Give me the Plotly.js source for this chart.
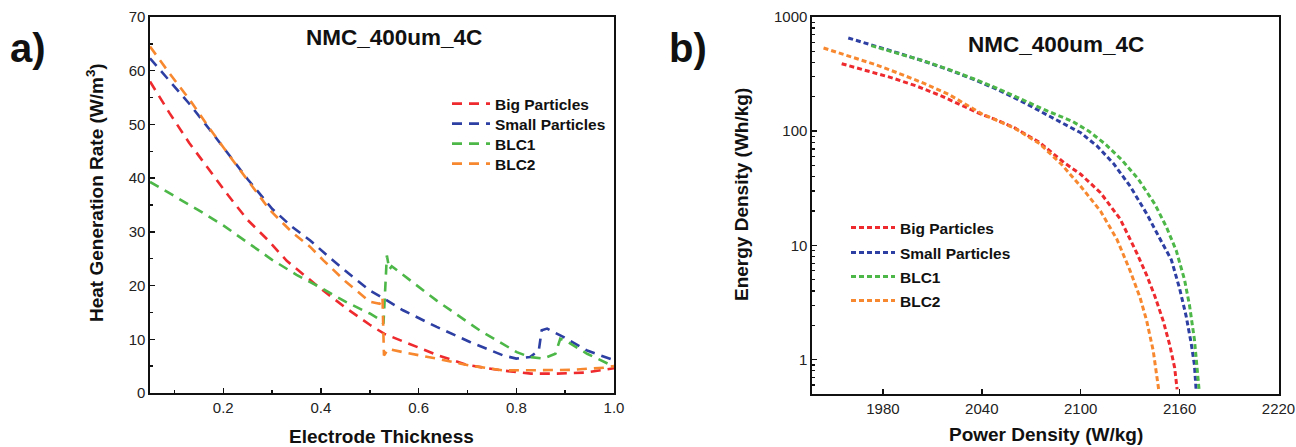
<!DOCTYPE html>
<html>
<head>
<meta charset="utf-8">
<script src="https://cdn.plot.ly/plotly-3.0.1.min.js"></script>
<style>html,body{margin:0;padding:0;background:#fff;}#chart{width:1296px;height:447px;}</style>
</head>
<body>
<div id="chart"></div>
<script>
// ---------- Panel a) Heat generation rate vs electrode thickness ----------
const seriesNames = ["Big Particles", "Small Particles", "BLC1", "BLC2"];
const seriesColors = ["#EE2A2E", "#2E3FA3", "#4DB848", "#F7882F"];

const bigThk  = [0.05,0.09,0.13,0.17,0.21,0.25,0.29,0.33,0.37,0.40,0.45,0.50,0.53,0.57,0.64,0.70,0.77,0.83,0.88,0.94,1.00];
const bigHeat = [58.0,52.1,46.6,41.6,36.8,32.2,28.6,24.6,21.6,19.4,15.9,12.7,11.0,9.5,7.0,5.2,4.2,3.6,3.6,3.8,4.6];

const smallThk  = [0.05,0.09,0.13,0.17,0.21,0.25,0.30,0.34,0.378,0.419,0.46,0.50,0.527,0.568,0.637,0.705,0.773,0.80,0.828,0.846,0.852,0.863,0.897,0.945,1.00];
const smallHeat = [62.3,58.0,53.9,49.3,44.6,39.8,34.3,31.0,28.4,25.1,22.0,19.1,17.7,15.4,12.3,9.5,7.0,6.4,6.7,7.9,11.7,12.0,10.4,7.9,6.1];

const blc1Thk  = [0.05,0.10,0.15,0.20,0.25,0.30,0.35,0.40,0.45,0.50,0.522,0.528,0.535,0.540,0.545,0.60,0.637,0.726,0.801,0.828,0.855,0.880,0.890,0.900,0.945,0.996,1.00];
const blc1Heat = [39.3,36.7,34.0,31.2,28.0,24.8,22.0,19.6,17.0,14.8,13.6,12.9,25.6,23.0,23.6,19.8,17.2,11.6,7.6,6.7,6.4,7.3,10.1,9.8,7.3,5.1,5.0];

const blc2Thk  = [0.05,0.09,0.132,0.17,0.214,0.255,0.296,0.34,0.378,0.405,0.45,0.50,0.52,0.526,0.529,0.538,0.568,0.637,0.705,0.774,0.842,0.91,0.979,1.00];
const blc2Heat = [64.5,59.5,54.5,49.5,44.0,39.0,34.0,30.0,27.2,24.7,20.8,17.0,16.6,17.8,7.0,8.2,7.6,6.4,5.1,4.2,4.2,4.3,4.7,5.0];

// ---------- Panel b) Ragone plot ----------
const bigPow  = [1955,1970,1985,2000,2015,2030,2040,2050,2060,2075,2090,2100,2112,2124,2134,2140,2145,2150,2154,2157,2158.5];
const bigEng  = [390,340,295,250,205,163,140,124,107,80,53,42,29,17,8.6,5.5,3.6,2.2,1.35,0.85,0.55];

const smallPow = [1959,1975,1990,2005,2020,2035,2050,2065,2080,2090,2100,2110,2120,2130,2140,2148,2155,2160,2164,2167,2169,2170];
const smallEng = [655,560,480,410,345,285,230,180,138,115,97,74,52,33,19,11.5,7.5,4.2,2.4,1.4,0.9,0.55];

const blc1Pow = [1973,1990,2005,2020,2035,2050,2065,2080,2095,2105,2115,2125,2135,2145,2152,2158,2163,2166,2169,2171,2171.8];
const blc1Eng = [561,480,412,347,288,235,187,150,122,100,77,56,38,23,14.5,9.0,5.0,3.0,1.5,0.8,0.55];

const blc2Pow = [1944,1960,1975,1990,2005,2020,2030,2040,2050,2060,2075,2088,2100,2112,2122,2130,2136,2140,2144,2147.3];
const blc2Eng = [535,455,385,320,262,210,172,142,123,106,78,52,33,20,11.3,6.0,3.5,2.2,1.2,0.55];

const xTicksA = [0.2,0.4,0.6,0.8,1.0];
const yTicksB = [1,10,100,1000];
const xTicksB = [1980,2040,2100,2160,2220];
const panelTitle = "NMC_400um_4C";

const FONT = "Liberation Sans, Arial, Helvetica, sans-serif";
const W = 1296, H = 447;
const px = v => v / W;
const py = v => (H - v) / H;

const dataA = [[bigThk,bigHeat],[smallThk,smallHeat],[blc1Thk,blc1Heat],[blc2Thk,blc2Heat]];
const dataB = [[bigPow,bigEng],[smallPow,smallEng],[blc1Pow,blc1Eng],[blc2Pow,blc2Eng]];

// legend row centres (px from top) for each panel
const legendRowsA = [104, 124, 144, 164];
const legendRowsB = [228, 253, 277, 301];

const traces = [];
const legends = {};
const legFont = {family: FONT, size: 15.5, color: "#111", weight: "bold"};
dataA.forEach((d, i) => {
  const key = i === 0 ? "legend" : "legend" + (i + 1);
  traces.push({
    x: d[0], y: d[1], type: "scatter", mode: "lines", name: seriesNames[i],
    xaxis: "x", yaxis: "y", legend: key,
    line: {color: seriesColors[i], width: 2.6, dash: "10px,7px"}
  });
  legends[key] = {x: px(447), y: py(legendRowsA[i] - 17), xanchor: "left", yanchor: "top",
    bgcolor: "rgba(0,0,0,0)", borderwidth: 0, font: legFont, itemwidth: 38};
});
dataB.forEach((d, i) => {
  const key = "legend" + (i + 5);
  traces.push({
    x: d[0], y: d[1], type: "scatter", mode: "lines", name: seriesNames[i],
    xaxis: "x2", yaxis: "y2", legend: key,
    line: {color: seriesColors[i], width: 3, dash: "5px,3px"}
  });
  legends[key] = {x: px(846), y: py(legendRowsB[i] - 17), xanchor: "left", yanchor: "top",
    bgcolor: "rgba(0,0,0,0)", borderwidth: 0, font: legFont, itemwidth: 44};
});

// minor tick positions on the log axis
const logMinor = [];
[0.1,1,10,100].forEach(d => { for (let k = 2; k <= 9; k++) logMinor.push(k*d); });

const axCommon = {
  showline: true, linecolor: "#111", linewidth: 1.6, mirror: true,
  ticks: "inside", ticklen: 5, tickwidth: 1.5, tickcolor: "#111",
  showgrid: false, zeroline: false, ticklabeloverflow: "allow",
  tickfont: {family: FONT, size: 15, color: "#222"}
};

const annFont = (s) => ({family: FONT, size: s, color: "#111", weight: "bold"});

const layout = Object.assign({
  width: W, height: H,
  margin: {l: 0, r: 0, t: 0, b: 0},
  paper_bgcolor: "#fff", plot_bgcolor: "#fff",
  showlegend: true,
  xaxis: Object.assign({}, axCommon, {
    domain: [px(150), px(614)], range: [0.05, 1.0], anchor: "y",
    tickvals: xTicksA, tickformat: ".1f",
    minor: {tickvals: [0.1,0.3,0.5,0.7,0.9], ticks: "inside", ticklen: 3, tickwidth: 1.5, tickcolor: "#111", showgrid: false}
  }),
  yaxis: Object.assign({}, axCommon, {
    domain: [py(393), py(17)], range: [0, 70], anchor: "x",
    dtick: 10, tick0: 0,
    minor: {dtick: 5, tick0: 0, ticks: "inside", ticklen: 3, tickwidth: 1.5, tickcolor: "#111", showgrid: false}
  }),
  xaxis2: Object.assign({}, axCommon, {
    domain: [px(812), px(1279)], range: [1937, 2220.3], anchor: "y2",
    tickvals: xTicksB
  }),
  yaxis2: Object.assign({}, axCommon, {
    domain: [py(394), py(17)], type: "log", range: [-0.3, 3], anchor: "x2",
    tickvals: yTicksB, ticktext: yTicksB.map(String),
    minor: {tickvals: logMinor, ticks: "inside", ticklen: 3, tickwidth: 1.2, tickcolor: "#111", showgrid: false}
  }),
  annotations: [
    {text: panelTitle, xref: "paper", yref: "paper", x: px(394), y: py(38), xanchor: "center", yanchor: "middle", showarrow: false, font: annFont(22.5)},
    {text: panelTitle, xref: "paper", yref: "paper", x: px(1056), y: py(45), xanchor: "center", yanchor: "middle", showarrow: false, font: annFont(22.5)},
    {text: "a)", xref: "paper", yref: "paper", x: px(28), y: py(48), xanchor: "center", yanchor: "middle", showarrow: false, font: annFont(40)},
    {text: "b)", xref: "paper", yref: "paper", x: px(688), y: py(48), xanchor: "center", yanchor: "middle", showarrow: false, font: annFont(40)},
    {text: "Electrode Thickness", xref: "paper", yref: "paper", x: px(382), y: py(436), xanchor: "center", yanchor: "middle", showarrow: false, font: annFont(19)},
    {text: "Power Density (W/kg)", xref: "paper", yref: "paper", x: px(1046), y: py(434), xanchor: "center", yanchor: "middle", showarrow: false, font: annFont(19)},
    {text: "Heat Generation Rate (W/m<sup>3</sup>)", xref: "paper", yref: "paper", x: px(95), y: py(193), xanchor: "center", yanchor: "middle", showarrow: false, textangle: -90, font: annFont(19)},
    {text: "Energy Density (Wh/kg)", xref: "paper", yref: "paper", x: px(741), y: py(195), xanchor: "center", yanchor: "middle", showarrow: false, textangle: -90, font: annFont(19)}
  ]
}, legends);

Plotly.newPlot("chart", traces, layout, {displayModeBar: false, staticPlot: true});
</script>
</body>
</html>
